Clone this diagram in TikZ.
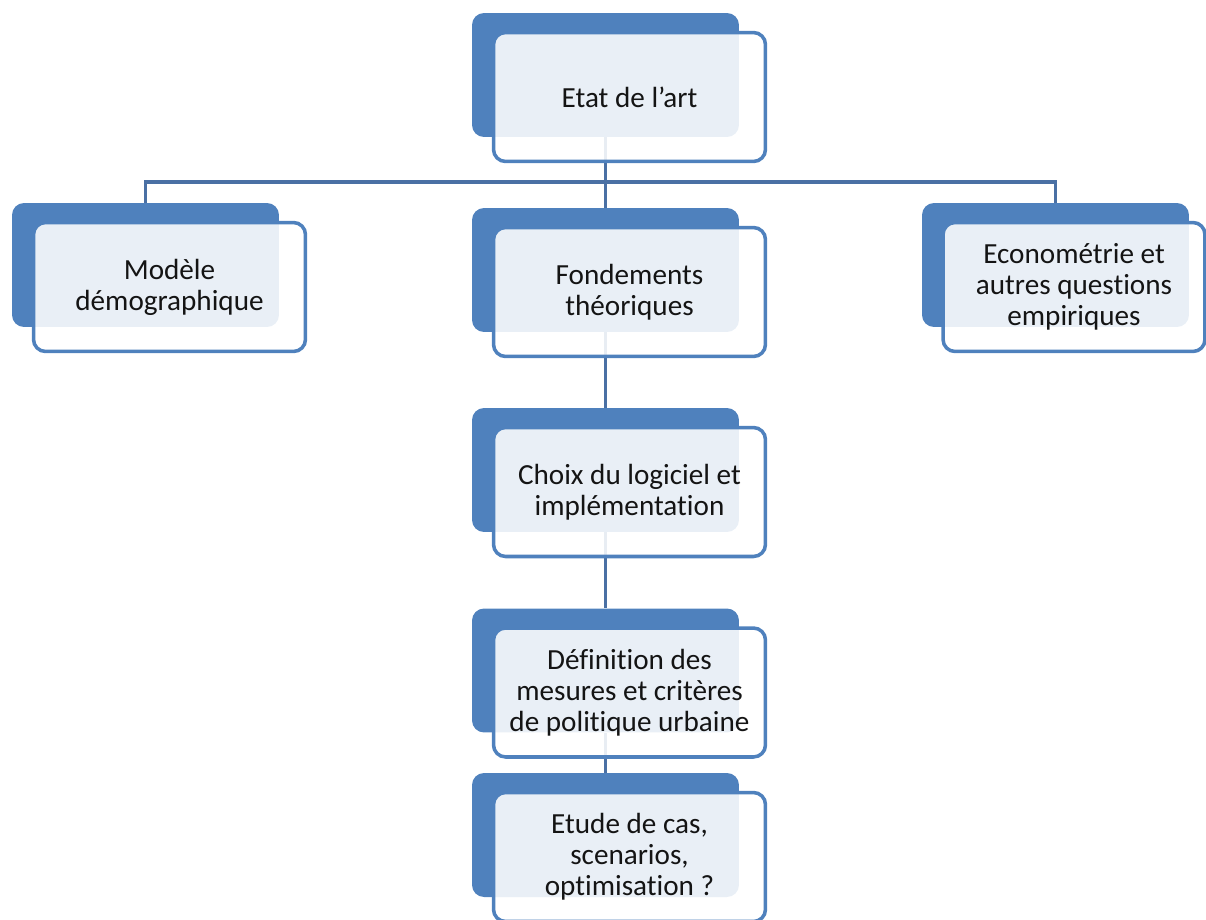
\documentclass[tikz,border=0pt]{standalone}
\usepackage{fontspec}
\setmainfont{Carlito}[Ligatures=NoCommon]
\usepackage{tikz}
\usetikzlibrary{positioning,calc}
\usepackage{xcolor}
\definecolor{accent}{HTML}{4F81BD}
\definecolor{linkblue}{HTML}{4A70A4}
\definecolor{ink}{HTML}{141414}

\begin{document}
\begin{tikzpicture}[
    x=0.02cm, y=-0.02cm,
    back/.style={rectangle, rounded corners=0.24cm, fill=accent, minimum width=5.34cm, minimum height=2.48cm, inner sep=0pt},
    front/.style={rectangle, rounded corners=0.24cm, draw=accent, line width=2pt, fill=white, fill opacity=0.88, text opacity=1, text=ink, minimum width=5.44cm, minimum height=2.58cm, align=center, inner sep=0pt, font=\fontsize{16.6}{17.6}\selectfont},
    link/.style={draw=linkblue, line width=2.1pt}
]
\useasboundingbox (0,0) rectangle (1206,919);

% Back boxes
\node[back] (etatB) at (605.5,75) {};
\node[back] (modeleB) at (145.5,265) {};
\node[back] (fondB) at (605.5,270) {};
\node[back] (econoB) at (1055.5,265) {};
\node[back] (choixB) at (605.5,470) {};
\node[back] (defB) at (605.5,670.5) {};
\node[back] (etudeB) at (605.5,835) {};

% Connectors
\coordinate (bus) at (0,182);
\draw[link] (etatB.south) -- (fondB.north);
\draw[link] (modeleB.north) |- (econoB.north |- bus) -- (econoB.north);
\draw[link] (fondB.south) -- (choixB.north);
\draw[link] (choixB.south) -- (defB.north);
\draw[link] (defB.south) -- (etudeB.north);

% Front boxes
\node[front] (etat) at ([shift={(24,22)}]etatB) {Etat de l’art};
\node[front] (modele) at ([shift={(24,22)}]modeleB) {Modèle\\démographique};
\node[front] (fond) at ([shift={(24,22)}]fondB) {Fondements\\théoriques};
\node[front, minimum width=5.24cm] (econo) at ([shift={(18.5,22)}]econoB) {Econométrie et\\autres questions\\empiriques};
\node[front] (choix) at ([shift={(24,22)}]choixB) {Choix du logiciel et\\implémentation};
\node[front] (def) at ([shift={(24,22)}]defB) {Définition des\\mesures et critères\\de politique urbaine};
\node[front] (etude) at ([shift={(24,22)}]etudeB) {Etude de cas,\\scenarios,\\optimisation ?};

\end{tikzpicture}
\end{document}
